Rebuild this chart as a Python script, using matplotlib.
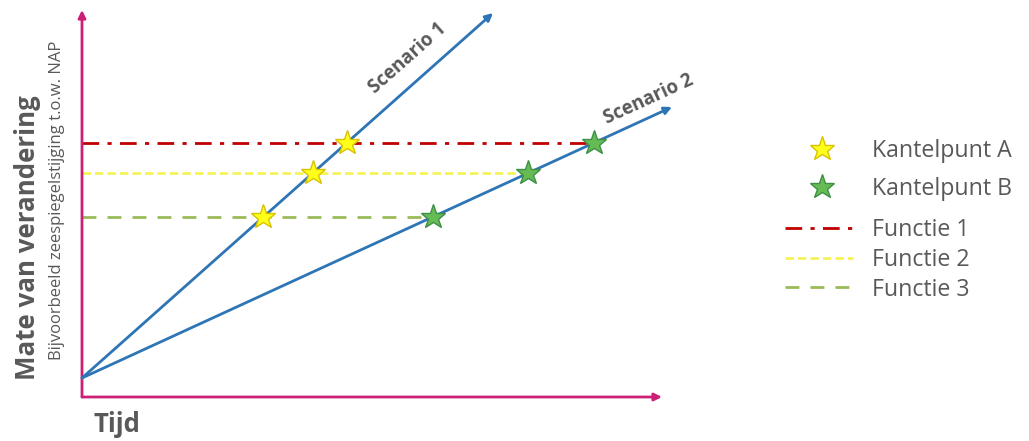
import matplotlib
matplotlib.use("Agg")
import matplotlib.pyplot as plt
from matplotlib.lines import Line2D
import numpy as np

plt.rcParams['font.family'] = ['Open Sans', 'DejaVu Sans']

# ---- data ----
scenarios = ['Scenario 1', 'Scenario 2']
scenario_start = 0.19
scenario_end_t = [4.11, 5.90]
scenario_end_v = [3.84, 2.90]
functions = ['Functie 1', 'Functie 2', 'Functie 3']
function_levels = [2.54, 2.24, 1.80]
kantelpunt_labels = ['Kantelpunt A', 'Kantelpunt B']

# ---- style ----
MAG = '#cc1f76'
BLUE = '#2e75b6'
GRAY = '#595959'
func_colors = ['#c00000', '#f5f35a', '#9bbb59']
func_styles = [(0, (6, 3, 1.5, 3)), (0, (3, 1.5)), (0, (5, 4))]
star_face = ['#ffff1a', '#66bb55']
star_edge = ['#d9c200', '#3f8f47']
STAR_MS = 18.5

W, H = 1029, 441
fig = plt.figure(figsize=(W / 100, H / 100), dpi=100)
x0px, x1px, y0px, y1px = 82, 710, 397, 5
ax = fig.add_axes([x0px / W, (H - y0px) / H, (x1px - x0px) / W, (y0px - y1px) / H])
ax.set_xlim(0, (x1px - x0px) / 100)
ax.set_ylim(0, (y0px - y1px) / 100)
ax.axis('off')

# axes arrows
x_axis_end = 5.80
y_axis_end = 3.87
ax.annotate('', xy=(x_axis_end, 0), xytext=(0, 0),
            arrowprops=dict(arrowstyle='-|>', color=MAG, lw=2, mutation_scale=11,
                            shrinkA=0, shrinkB=0), annotation_clip=False)
ax.annotate('', xy=(0, y_axis_end), xytext=(0, 0),
            arrowprops=dict(arrowstyle='-|>', color=MAG, lw=2, mutation_scale=11,
                            shrinkA=0, shrinkB=0), annotation_clip=False)

# scenarios
slopes = [(v - scenario_start) / t for t, v in zip(scenario_end_t, scenario_end_v)]
for t, v in zip(scenario_end_t, scenario_end_v):
    ax.annotate('', xy=(t, v), xytext=(0, scenario_start),
                arrowprops=dict(arrowstyle='-|>', color=BLUE, lw=2, mutation_scale=11,
                                shrinkA=0, shrinkB=0), annotation_clip=False, zorder=3)

# kantelpunten (intersections)
kp = [[(lvl - scenario_start) / s for lvl in function_levels] for s in slopes]

# functions
for lvl, c, ls, tB in zip(function_levels, func_colors, func_styles, kp[1]):
    ax.plot([0, tB], [lvl, lvl], color=c, lw=2, linestyle=ls, zorder=2)

for i in range(2):
    ax.plot(kp[i], function_levels, linestyle='none', marker='*', markersize=STAR_MS,
            markerfacecolor=star_face[i], markeredgecolor=star_edge[i],
            markeredgewidth=1, zorder=5)

# scenario labels
fig.canvas.draw()
label_pos = [(3.26, 3.39), (5.67, 2.98)]
for name, s, pos in zip(scenarios, slopes, label_pos):
    p0 = ax.transData.transform((0, scenario_start))
    p1 = ax.transData.transform((1, scenario_start + s))
    ang = np.degrees(np.arctan2(p1[1] - p0[1], p1[0] - p0[0]))
    ax.text(pos[0], pos[1], name, rotation=ang, ha='center', va='center',
            rotation_mode='anchor', fontsize=13.5, fontweight='bold', color=GRAY)

# axis labels
fig.text(28 / W, 1 - 238 / H, 'Mate van verandering', rotation=90, ha='center', va='center',
         fontsize=18.6, fontweight='bold', color=GRAY)
fig.text(57 / W, 1 - 200 / H, 'Bijvoorbeeld zeespiegelstijging t.o.w. NAP', rotation=90,
         ha='center', va='center', fontsize=12, color=GRAY)
fig.text(93 / W, 1 - 425 / H, 'Tijd', ha='left', va='center',
         fontsize=18.5, fontweight='bold', color=GRAY)

# legends
FS = 16.7
fs_px = FS * 100 / 72
star_handles = [Line2D([], [], linestyle='none', marker='*', markersize=STAR_MS,
                       markerfacecolor=star_face[i], markeredgecolor=star_edge[i],
                       markeredgewidth=1) for i in range(2)]
fig.legend(star_handles, kantelpunt_labels, loc='upper left',
           bbox_to_anchor=(785 / W, 1 - 139 / H), frameon=False,
           fontsize=FS, labelcolor=GRAY, handlelength=74 / fs_px,
           handletextpad=13 / fs_px, labelspacing=0.62, borderpad=0, borderaxespad=0)
line_handles = [Line2D([], [], color=c, lw=2, linestyle=ls)
                for c, ls in zip(func_colors, func_styles)]
fig.legend(line_handles, functions, loc='upper left',
           bbox_to_anchor=(785 / W, 1 - 218 / H), frameon=False,
           fontsize=FS, labelcolor=GRAY, handlelength=68 / fs_px,
           handletextpad=19 / fs_px, labelspacing=0.25, borderpad=0, borderaxespad=0)

fig.savefig('out.png', dpi=100)
